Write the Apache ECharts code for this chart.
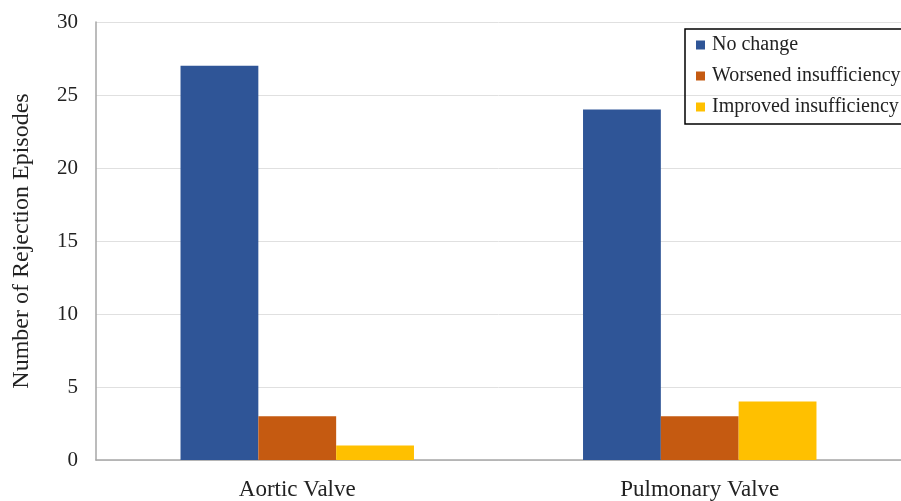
<!DOCTYPE html>
<html><head><meta charset="utf-8">
<script src="https://cdn.jsdelivr.net/npm/echarts@6/dist/echarts.min.js"></script>
<style>html,body{margin:0;padding:0;background:#fff}#c{width:901px;height:501px}</style>
</head><body><div id="c"></div>
<script>
const categories = ['Aortic Valve', 'Pulmonary Valve'];
const noChange = [27, 24];
const worsened = [3, 3];
const improved = [1, 4];
const seriesNames = ['No change', 'Worsened insufficiency', 'Improved insufficiency'];
const colors = ['#2F5597', '#C55A11', '#FFC000'];
const FONT = '"Liberation Serif", "Times New Roman", serif';

const chart = echarts.init(document.getElementById('c'));
chart.setOption({
  animation: false,
  color: colors,
  textStyle: { fontFamily: FONT },
  grid: { left: 96, top: 22, width: 808, height: 439 },
  legend: {
    orient: 'vertical', left: 685, top: 29,
    borderColor: '#000', borderWidth: 1.5,
    padding: [6, 30, 7, 11], itemGap: 11,
    itemWidth: 9, itemHeight: 9, icon: 'rect',
    textStyle: { fontFamily: FONT, fontSize: 20, color: '#222', padding: [0, 0, 0, 2] },
    data: seriesNames
  },
  xAxis: {
    type: 'category', data: categories,
    axisLine: { lineStyle: { color: '#A6A6A6', width: 1.5 } },
    axisTick: { show: false },
    axisLabel: { fontFamily: FONT, fontSize: 23, color: '#222', margin: 18 }
  },
  yAxis: {
    type: 'value', min: 0, max: 30, interval: 5,
    name: 'Number of Rejection Episodes', nameLocation: 'middle', nameGap: 62,
    nameTextStyle: { fontFamily: FONT, fontSize: 24, color: '#222' },
    axisLine: { show: true, lineStyle: { color: '#A6A6A6', width: 1.5 } },
    axisTick: { show: false },
    axisLabel: { fontFamily: FONT, fontSize: 21, color: '#222', margin: 18 },
    splitLine: { lineStyle: { color: '#E0E0E0', width: 1 } }
  },
  series: [
    { name: seriesNames[0], type: 'bar', data: noChange, barGap: '0%', barCategoryGap: '42%' },
    { name: seriesNames[1], type: 'bar', data: worsened, barGap: '0%', barCategoryGap: '42%' },
    { name: seriesNames[2], type: 'bar', data: improved, barGap: '0%', barCategoryGap: '42%' }
  ]
});
</script></body></html>
